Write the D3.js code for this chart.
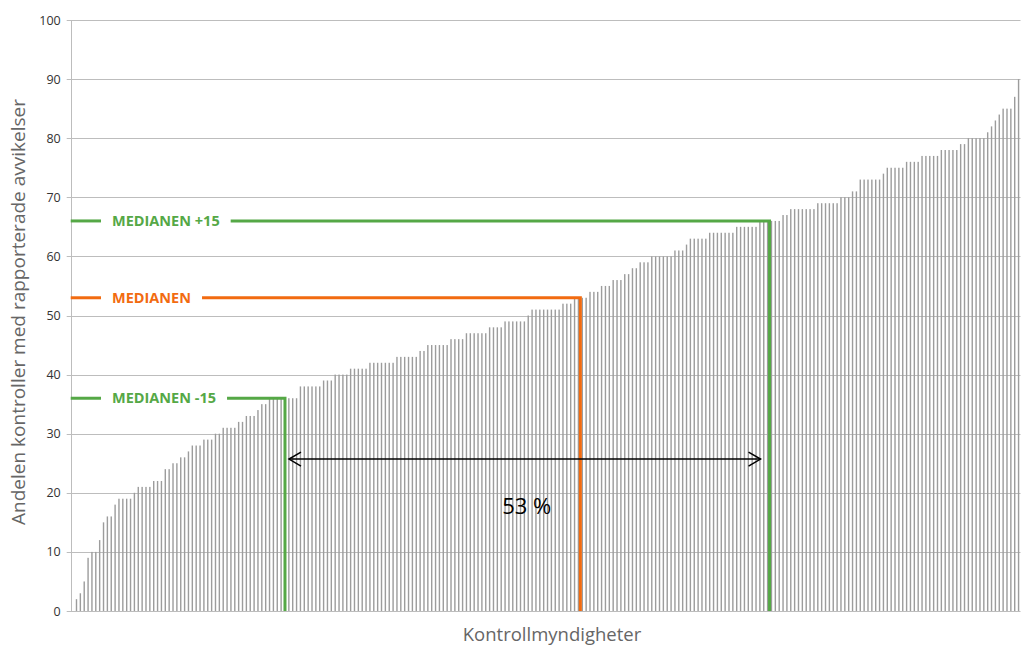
<!DOCTYPE html>
<html>
<head>
<meta charset="utf-8">
<script src="https://cdn.jsdelivr.net/npm/d3@7"></script>
<style>
  html, body { margin: 0; padding: 0; background: #fff; }
  svg { display: block; }
</style>
</head>
<body>
<svg id="chart" width="1022" height="648"></svg>
<script>
// ---- data ----
const values = [
  0, 2, 3, 5, 9, 10, 10, 12, 15, 16, 16, 18, 19, 19, 19, 19, 20, 21, 21, 21,
  21, 22, 22, 22, 24, 24, 25, 25, 26, 26, 27, 28, 28, 28, 29, 29, 29, 30, 30, 31,
  31, 31, 31, 32, 32, 33, 33, 33, 34, 35, 35, 36, 36, 36, 36, 36, 36, 36, 36, 38,
  38, 38, 38, 38, 38, 39, 39, 39, 40, 40, 40, 40, 41, 41, 41, 41, 41, 42, 42, 42,
  42, 42, 42, 42, 43, 43, 43, 43, 43, 43, 44, 44, 45, 45, 45, 45, 45, 45, 46, 46,
  46, 46, 47, 47, 47, 47, 47, 47, 48, 48, 48, 48, 49, 49, 49, 49, 49, 49, 50, 51,
  51, 51, 51, 51, 51, 51, 51, 52, 52, 52, 53, 53, 53, 53, 54, 54, 54, 55, 55, 55,
  56, 56, 56, 57, 57, 58, 58, 59, 59, 59, 60, 60, 60, 60, 60, 60, 61, 61, 61, 62,
  63, 63, 63, 63, 63, 64, 64, 64, 64, 64, 64, 64, 65, 65, 65, 65, 65, 65, 66, 66,
  66, 66, 66, 66, 67, 67, 68, 68, 68, 68, 68, 68, 68, 69, 69, 69, 69, 69, 69, 70,
  70, 70, 71, 71, 73, 73, 73, 73, 73, 73, 74, 75, 75, 75, 75, 75, 76, 76, 76, 76,
  77, 77, 77, 77, 77, 78, 78, 78, 78, 78, 79, 79, 80, 80, 80, 80, 80, 81, 82, 83,
  84, 85, 85, 85, 87, 90
];
const yTicks = [0, 10, 20, 30, 40, 50, 60, 70, 80, 90, 100];
const markerLabels = ["MEDIANEN +15", "MEDIANEN", "MEDIANEN -15"];
const markerValues = [66, 53, 36];
const markerIndex = [180.5, 131.5, 55];
const spanLabel = "53 %";
const spanLevel = 25.7;
const spanLabelLevel = 17.8;
const yTitle = "Andelen kontroller med rapporterade avvikelser";
const xTitle = "Kontrollmyndigheter";

// ---- styles ----
const GREEN = "#55A846", ORANGE = "#F26B10";
const markerColors = [GREEN, ORANGE, GREEN];

(function () {
const svg = d3.select("#chart");
const pLeft = 70.7, pRight = 1020.5, pTop = 20, pBottom = 611;

const x = d3.scaleBand().domain(d3.range(values.length)).range([pLeft, pRight]).padding(0);
const y = d3.scaleLinear().domain([0, 100]).range([pBottom, pTop]);
const bw = x.bandwidth();
// center position for a (possibly fractional) category index
const xc = i => x(Math.floor(i)) + bw / 2 + (i - Math.floor(i)) * bw;

// gridlines
svg.append("g").selectAll("line").data(yTicks).join("line")
  .attr("x1", pLeft - 4).attr("x2", pRight)
  .attr("y1", d => Math.round(y(d)) + 0.5).attr("y2", d => Math.round(y(d)) + 0.5)
  .attr("stroke", "#BDBDBD").attr("stroke-width", 1);

// y axis line
svg.append("line").attr("x1", Math.round(pLeft) + 0.5).attr("x2", Math.round(pLeft) + 0.5)
  .attr("y1", pTop).attr("y2", pBottom)
  .attr("stroke", "#BDBDBD").attr("stroke-width", 1);

// y axis labels
const yAxis = d3.axisLeft(y).tickValues(yTicks).tickSize(0).tickPadding(10);
const ga = svg.append("g").attr("transform", `translate(${pLeft},0)`).call(yAxis);
ga.select(".domain").remove();
ga.selectAll("text").attr("font-family", "Open Sans, sans-serif").attr("font-size", 12.5).attr("fill", "#333");

// bars
const barW = 1.4;
svg.append("g").selectAll("rect").data(values).join("rect")
  .attr("x", (d, i) => x(i) + bw / 2 - barW / 2)
  .attr("width", barW)
  .attr("y", d => y(d))
  .attr("height", d => y(0) - y(d))
  .attr("fill", "#9C9C9C");

// marker lines
const gm = svg.append("g");
markerLabels.forEach((lab, k) => {
  const yy = y(markerValues[k]);
  const xv = xc(markerIndex[k]);
  const col = markerColors[k];
  gm.append("line").attr("x1", pLeft).attr("x2", 101).attr("y1", yy).attr("y2", yy)
    .attr("stroke", col).attr("stroke-width", 3);
  const t = gm.append("text").attr("x", 112).attr("y", yy).attr("dy", "0.36em")
    .attr("font-family", "Open Sans, sans-serif").attr("font-weight", "bold")
    .attr("font-size", 14.5).attr("fill", col).text(lab);
  const bb = t.node().getBBox();
  gm.append("path")
    .attr("d", `M${bb.x + bb.width + 11},${yy}L${xv},${yy}L${xv},${y(0)}`)
    .attr("fill", "none").attr("stroke", col).attr("stroke-width", 3)
    .attr("stroke-linejoin", "miter");
});

// span arrow
const ax1 = xc(markerIndex[2]) + 4;
const ax2 = xc(markerIndex[0]) - 9;
const ay = y(spanLevel);
const ga2 = svg.append("g").attr("stroke", "#000").attr("stroke-width", 1.5).attr("fill", "none");
ga2.append("line").attr("x1", ax1).attr("x2", ax2).attr("y1", ay).attr("y2", ay);
ga2.append("path").attr("d", `M${ax1 + 12},${ay - 7}L${ax1},${ay}L${ax1 + 12},${ay + 7}`);
ga2.append("path").attr("d", `M${ax2 - 12},${ay - 7}L${ax2},${ay}L${ax2 - 12},${ay + 7}`);
svg.append("text").attr("x", (ax1 + ax2) / 2 + 2).attr("y", y(spanLabelLevel)).attr("dy", "0.36em")
  .attr("text-anchor", "middle").attr("font-family", "Open Sans, sans-serif")
  .attr("font-size", 22).attr("fill", "#000").text(spanLabel);

// axis titles
svg.append("text").attr("transform", `translate(25,312) rotate(-90)`)
  .attr("text-anchor", "middle").attr("font-family", "Open Sans, sans-serif")
  .attr("font-size", 19).attr("fill", "#666").text(yTitle);
svg.append("text").attr("x", 552).attr("y", 634).attr("dy", "0.36em")
  .attr("text-anchor", "middle").attr("font-family", "Open Sans, sans-serif")
  .attr("font-size", 18.5).attr("fill", "#666").text(xTitle);
})();
</script>
</body>
</html>
